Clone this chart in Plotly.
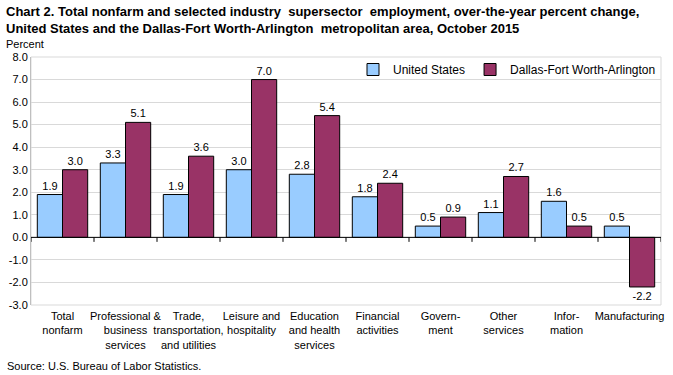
import plotly.graph_objects as go

categories = ["Total<br>nonfarm", "Professional &<br>business<br>services",
              "Trade,<br>transportation,<br>and utilities", "Leisure and<br>hospitality",
              "Education<br>and health<br>services", "Financial<br>activities",
              "Govern-<br>ment", "Other<br>services", "Infor-<br>mation", "Manufacturing"]
us_values = [1.9, 3.3, 1.9, 3.0, 2.8, 1.8, 0.5, 1.1, 1.6, 0.5]
dfw_values = [3.0, 5.1, 3.6, 7.0, 5.4, 2.4, 0.9, 2.7, 0.5, -2.2]
tick_vals = [-3, -2, -1, 0, 1, 2, 3, 4, 5, 6, 7, 8]

FONT = "Liberation Sans, Arial, sans-serif"
idx = list(range(len(categories)))

fig = go.Figure()
fig.add_trace(go.Bar(x=idx, y=us_values, name="United States",
                     marker=dict(color="#99CCFF", line=dict(color="black", width=1)),
                     text=[f"{v:.1f}" for v in us_values], textposition="outside",
                     textfont=dict(size=11, color="black"), cliponaxis=False))
fig.add_trace(go.Bar(x=idx, y=dfw_values, name="Dallas-Fort Worth-Arlington",
                     marker=dict(color="#993366", line=dict(color="black", width=1)),
                     text=[f"{v:.1f}" for v in dfw_values], textposition="outside",
                     textfont=dict(size=11, color="black"), cliponaxis=False))

shapes = [dict(type="rect", xref="paper", yref="paper", x0=0, x1=1, y0=0, y1=1,
               line=dict(color="#D9D9D9", width=1), layer="below"),
          dict(type="line", xref="x", yref="y", x0=-0.5, x1=len(categories) - 0.5, y0=0, y1=0,
               line=dict(color="black", width=1))]
for i in range(len(categories) + 1):
    shapes.append(dict(type="line", xref="x", yref="y", x0=i - 0.5, x1=i - 0.5, y0=0, y1=-0.2,
                       line=dict(color="black", width=1)))

W, H = 673, 375
L, R, T, B = 31, 12, 57, 70
PW, PH = W - L - R, H - T - B

fig.update_layout(
    width=W, height=H,
    margin=dict(l=L, r=R, t=T, b=B, autoexpand=False),
    paper_bgcolor="white", plot_bgcolor="white",
    font=dict(family=FONT, size=11, color="black"),
    barmode="group", bargap=0.2, bargroupgap=0,
    showlegend=True,
    legend=dict(orientation="h", x=1.0, xanchor="right", y=1.0 + 2/PH, yanchor="top",
                font=dict(size=12), bgcolor="rgba(0,0,0,0)", itemwidth=30,
                traceorder="normal", tracegroupgap=0),
    xaxis=dict(tickmode="array", tickvals=idx, ticktext=categories, range=[-0.5, len(categories) - 0.5],
               showline=False, ticks="", showgrid=False, zeroline=False, tickangle=0,
               automargin=False, tickfont=dict(size=11), ticklabelstandoff=3),
    yaxis=dict(range=[-3, 8], tickvals=tick_vals, ticktext=[f"{v:.1f}" for v in tick_vals],
               showgrid=True, gridcolor="#D9D9D9", zeroline=False, automargin=False,
               showline=True, linecolor="#BFBFBF", ticks="", tickfont=dict(size=11)),
    shapes=shapes,
    annotations=[
        dict(text="<b>Chart 2. Total nonfarm and selected industry  supersector  employment, over-the-year percent change,<br>United States and the Dallas-Fort Worth-Arlington  metropolitan area, October 2015</b>",
             xref="paper", yref="paper", x=-(L - 4)/PW, y=1 + (T - 2)/PH, xanchor="left", yanchor="top",
             align="left", showarrow=False, font=dict(size=13)),
        dict(text="Percent", xref="paper", yref="paper", x=-(L - 4)/PW, y=1 + 5/PH, xanchor="left",
             yanchor="bottom", showarrow=False, font=dict(size=11)),
        dict(text="Source: U.S. Bureau of Labor Statistics.", xref="paper", yref="paper",
             x=-(L - 5)/PW, y=-61/PH, xanchor="left", yanchor="middle", showarrow=False, font=dict(size=11)),
    ],
)

fig.write_html("out.html", config={"displayModeBar": False},
               post_script="document.body.style.margin='0';")
